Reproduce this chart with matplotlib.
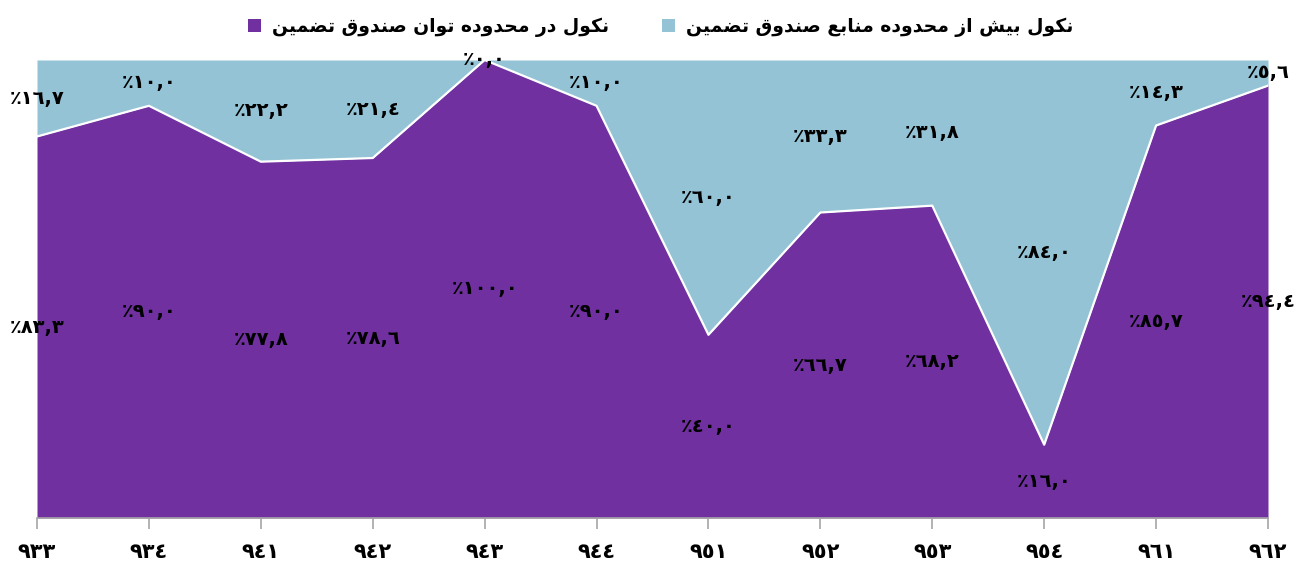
"""Stacked 100% area chart of default shares (Persian labels)."""

import matplotlib
matplotlib.use("Agg")
import matplotlib.pyplot as plt
import numpy as np

periods = ["933", "934", "941", "942", "943", "944", "951", "952", "953", "954", "961", "962"]
within_fund = [83.3, 90.0, 77.8, 78.6, 100.0, 90.0, 40.0, 66.7, 68.2, 16.0, 85.7, 94.4]
beyond_fund = [16.7, 10.0, 22.2, 21.4, 0.0, 10.0, 60.0, 33.3, 31.8, 84.0, 14.3, 5.6]

label_within = "نکول در محدوده توان صندوق تضمین"
label_beyond = "نکول بیش از محدوده منابع صندوق تضمین"

PURPLE = "#7030A0"
BLUE = "#93C3D5"

# --- minimal Arabic/Persian shaping (matplotlib has no bidi / joining) ---
_FORMS = {
    "ن": ("\uFEE5", "\uFEE6", "\uFEE7", "\uFEE8"),
    "ک": ("\uFB8E", "\uFB8F", "\uFB90", "\uFB91"),
    "و": ("\uFEED", "\uFEEE", None, None),
    "ل": ("\uFEDD", "\uFEDE", "\uFEDF", "\uFEE0"),
    "د": ("\uFEA9", "\uFEAA", None, None),
    "ر": ("\uFEAD", "\uFEAE", None, None),
    "ز": ("\uFEAF", "\uFEB0", None, None),
    "م": ("\uFEE1", "\uFEE2", "\uFEE3", "\uFEE4"),
    "ح": ("\uFEA1", "\uFEA2", "\uFEA3", "\uFEA4"),
    "ه": ("\uFEE9", "\uFEEA", "\uFEEB", "\uFEEC"),
    "ت": ("\uFE95", "\uFE96", "\uFE97", "\uFE98"),
    "ا": ("\uFE8D", "\uFE8E", None, None),
    "ص": ("\uFEB9", "\uFEBA", "\uFEBB", "\uFEBC"),
    "ق": ("\uFED5", "\uFED6", "\uFED7", "\uFED8"),
    "ض": ("\uFEBD", "\uFEBE", "\uFEBF", "\uFEC0"),
    "ی": ("\uFBFC", "\uFBFD", "\uFBFE", "\uFBFF"),
    "ب": ("\uFE8F", "\uFE90", "\uFE91", "\uFE92"),
    "ش": ("\uFEB5", "\uFEB6", "\uFEB7", "\uFEB8"),
    "ع": ("\uFEC9", "\uFECA", "\uFECB", "\uFECC"),
}


def shape_rtl(text):
    """Pick contextual forms and reverse for left-to-right drawing."""
    out = []
    for i, ch in enumerate(text):
        if ch not in _FORMS:
            out.append(ch)
            continue
        prev = text[i - 1] if i > 0 else ""
        nxt = text[i + 1] if i + 1 < len(text) else ""
        join_prev = prev in _FORMS and _FORMS[prev][2] is not None
        join_next = nxt in _FORMS and _FORMS[ch][2] is not None
        iso, fin, ini, med = _FORMS[ch]
        if join_prev and join_next:
            out.append(med)
        elif join_prev:
            out.append(fin)
        elif join_next:
            out.append(ini)
        else:
            out.append(iso)
    return "".join(reversed(out))


_DIGITS = str.maketrans("0123456789", "٠١٢٣٤٥٦٧٨٩")


def fa_num(s):
    return s.translate(_DIGITS)


def fa_pct(v):
    return "٪" + fa_num(f"{v:.1f}").replace(".", ",")


x = np.arange(len(periods))
within = np.array(within_fund)
beyond = np.array(beyond_fund)

fig = plt.figure(figsize=(13.06, 5.65), dpi=100)
ax = fig.add_axes([37 / 1306, 1 - 518 / 565, (1268 - 37) / 1306, (518 - 60) / 565])

ax.fill_between(x, 0, within, color=PURPLE, linewidth=0, label=shape_rtl(label_within))
ax.fill_between(x, within, within + beyond, color=BLUE, linewidth=0, label=shape_rtl(label_beyond))
ax.plot(x, within, color="white", linewidth=1.6)

ax.set_xlim(0, len(periods) - 1)
ax.set_ylim(0, 100)

for xi, a, b in zip(x, within, beyond):
    ax.text(xi, a / 2, fa_pct(a), ha="center", va="center",
            fontsize=14, fontweight="bold", color="black")
    ax.text(xi, a + b / 2, fa_pct(b), ha="center", va="center",
            fontsize=14, fontweight="bold", color="black", clip_on=False)

for side in ["top", "left", "right"]:
    ax.spines[side].set_visible(False)
ax.spines["bottom"].set_color("#A6A6A6")
ax.spines["bottom"].set_linewidth(1.2)
ax.set_yticks([])
ax.set_xticks(x)
ax.set_xticklabels([fa_num(p) for p in periods], fontsize=15, fontweight="bold")
ax.tick_params(axis="x", length=8, width=1.2, color="#A6A6A6", pad=9)

fig.legend(loc="upper center", bbox_to_anchor=(0.506, 1.0), ncol=2, frameon=False,
           prop={"size": 13.5, "weight": "bold"}, handlelength=0.7, handleheight=0.7,
           handletextpad=0.6, columnspacing=2.8)

fig.savefig("out.png", dpi=100)
